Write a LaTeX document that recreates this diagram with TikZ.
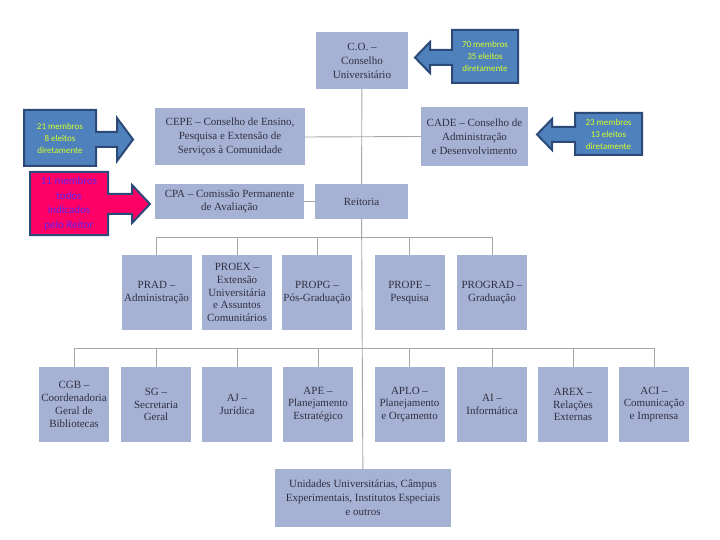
\documentclass[tikz,border=0pt]{standalone}
\usepackage{fontspec}
\setmainfont{Liberation Serif}
\newfontfamily\calfont{Carlito}
\usepackage{xcolor}
\usepackage{tikz}
\usetikzlibrary{calc}

\definecolor{orgfill}{RGB}{166,178,212}
\definecolor{orgtext}{RGB}{48,48,66}
\definecolor{orgline}{RGB}{166,166,166}
\definecolor{callfill}{RGB}{79,129,189}
\definecolor{calldraw}{RGB}{44,74,120}
\definecolor{calltext}{RGB}{214,255,40}
\definecolor{pinkfill}{RGB}{255,0,102}
\definecolor{pinktext}{RGB}{90,36,235}

\begin{document}
\begin{tikzpicture}[x=1pt,y=-1pt,
  ob/.style={fill=orgfill,text=orgtext,align=center,inner sep=1pt,
    font=\fontsize{11}{12.8}\selectfont},
  sb/.style={ob,minimum width=70pt,minimum height=75pt},
  ln/.style={draw=orgline,line width=0.9pt},
  cb/.style={fill=callfill,draw=calldraw,line width=2pt,line join=miter},
  ct/.style={text=calltext,align=center,inner sep=0pt,
    font=\calfont\fontsize{9}{12}\selectfont}]
\useasboundingbox[fill=white] (0,0) rectangle (720,540);

% councils and rectorate
\node[ob,minimum width=92pt,minimum height=57pt,font=\fontsize{11}{14}\selectfont] (co) at (362,60.5) {C.O. --\\Conselho\\Universitário};
\node[ob,minimum width=150pt,minimum height=57pt,font=\fontsize{11}{14}\selectfont] (cepe) at (230,137) {CEPE -- Conselho de Ensino,\\Pesquisa e Extensão de\\Serviços à Comunidade};
\node[ob,minimum width=107pt,minimum height=59pt,font=\fontsize{11}{14}\selectfont] (cade) at (474.5,136.5) {CADE -- Conselho de\\Administração\\e Desenvolvimento};
\node[ob,minimum width=149pt,minimum height=35pt] (cpa) at (229.5,201.5) {CPA -- Comissão Permanente\\de Avaliação};
\node[ob,minimum width=93pt,minimum height=35pt] (reit) at (361.5,201.5) {Reitoria};
\node[ob,minimum width=176pt,minimum height=58pt,font=\fontsize{11}{14}\selectfont] (uni) at (363,498) {Unidades Universitárias, Câmpus\\Experimentais, Institutos Especiais\\e outros};

% pro-reitorias
\node[sb] (prad) at (156.5,292.5) {PRAD --\\Administração};
\node[sb] (proex) at (237,292.5) {PROEX --\\Extensão\\Universitária\\e Assuntos\\Comunitários};
\node[sb] (propg) at (317,292.5) {PROPG --\\Pós-Graduação};
\node[sb] (prope) at (409.5,292.5) {PROPE --\\Pesquisa};
\node[sb] (prograd) at (492,292.5) {PROGRAD --\\Graduação};

% assessorias
\node[sb] (cgb) at (74,404.5) {CGB --\\Coordenadoria\\Geral de\\Bibliotecas};
\node[sb] (sg) at (156,404.5) {SG --\\Secretaria\\Geral};
\node[sb] (aj) at (237,404.5) {AJ --\\Jurídica};
\node[sb] (ape) at (318,404.5) {APE --\\Planejamento\\Estratégico};
\node[sb] (aplo) at (409.5,404.5) {APLO --\\Planejamento\\e Orçamento};
\node[sb] (ai) at (492,404.5) {AI --\\Informática};
\node[sb] (arex) at (573,404.5) {AREX --\\Relações\\Externas};
\node[sb] (aci) at (654,404.5) {ACI --\\Comunicação\\e Imprensa};

\coordinate (busa) at (362,237);
\coordinate (busb) at (362,348);

\draw[ln] (co) -- (reit);
\draw[ln] (reit) -- (uni);
\draw[ln] (cepe.east) -- (cade.west);
\draw[ln] (cpa.east) -- (reit.west);
\foreach \b in {prad,proex,propg,prope,prograd}
  \draw[ln] (\b.north) |- (busa);
\foreach \b in {cgb,sg,aj,ape,aplo,ai,arex,aci}
  \draw[ln] (\b.north) |- (busb);

% callouts
\draw[cb] (452,30) -- (518,30) -- (518,83) -- (452,83) -- (452,65) -- (430,65)
  -- (430,73) -- (415,57.5) -- (430,42) -- (430,50) -- (452,50) -- cycle;
\node[ct] (nco) at (485,56.5) {70 membros\\35 eleitos\\diretamente};

\draw[cb] (575,113) -- (642,113) -- (642,155) -- (575,155) -- (575,142) -- (552,142)
  -- (552,150) -- (537,134.5) -- (552,119) -- (552,127) -- (575,127) -- cycle;
\node[ct] (ncade) at (608.5,134) {23 membros\\13 eleitos\\diretamente};

\draw[cb] (24,110) -- (96,110) -- (96,132) -- (117,132) -- (117,118) -- (133,139.5)
  -- (117,161) -- (117,147) -- (96,147) -- (96,166) -- (24,166) -- cycle;
\node[ct] (ncepe) at (60,138) {21 membros\\8 eleitos\\diretamente};

\draw[cb,fill=pinkfill] (30,172) -- (108,172) -- (108,194) -- (132,194) -- (132,185)
  -- (150,204) -- (132,223) -- (132,214) -- (108,214) -- (108,235) -- (30,235) -- cycle;
\node[ct,text=pinktext,font=\calfont\fontsize{11}{14.5}\selectfont] (ncpa) at (69,203.5) {11 membros\\todos\\indicados\\pelo Reitor};
\end{tikzpicture}
\end{document}
